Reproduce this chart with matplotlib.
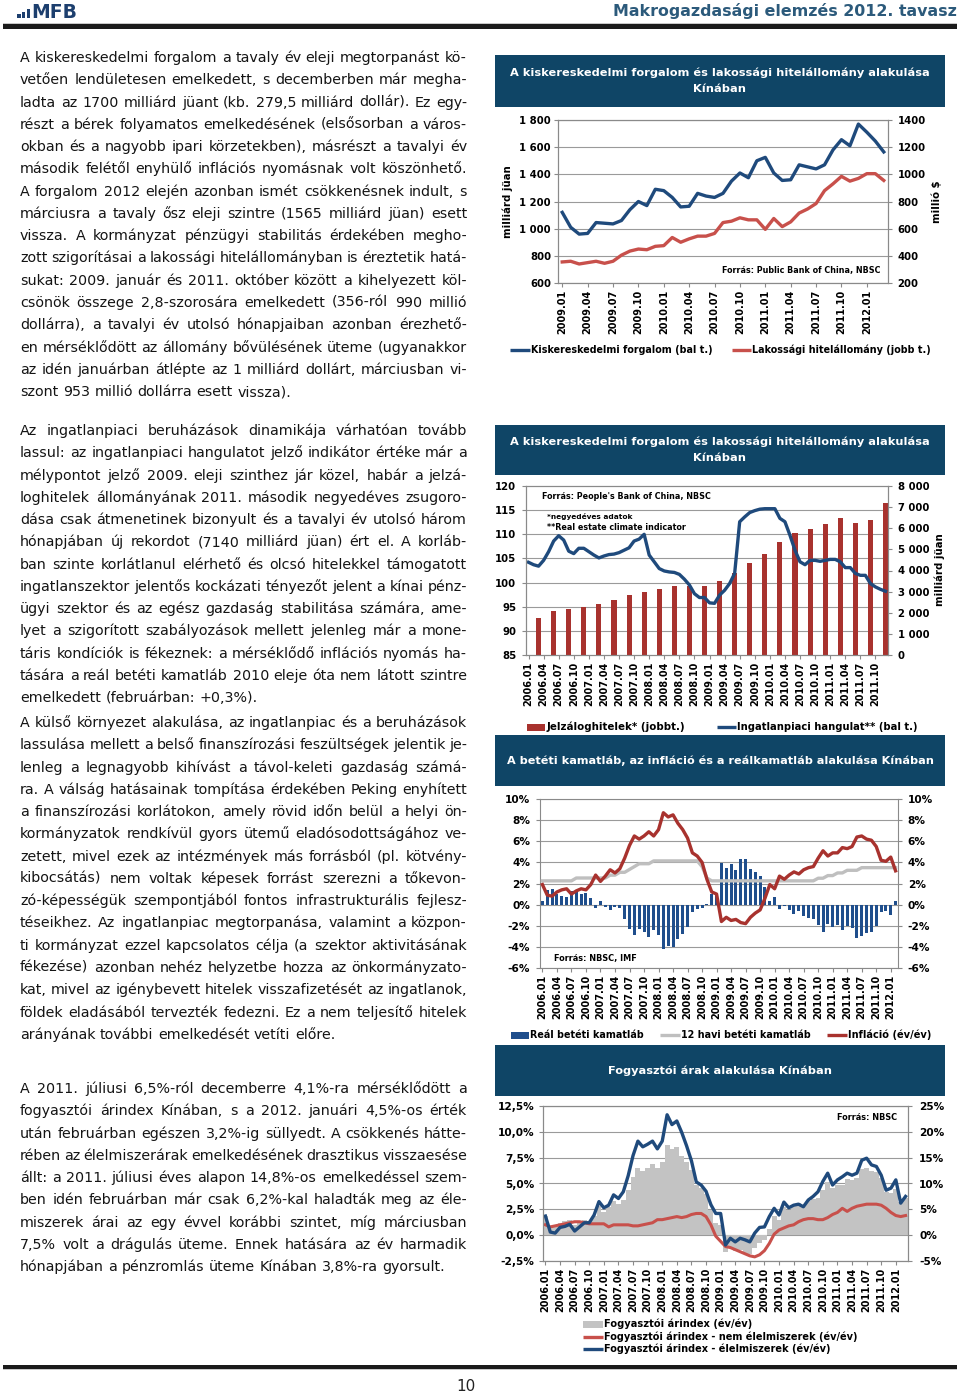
import matplotlib
matplotlib.use("Agg")
import matplotlib.pyplot as plt
import matplotlib.patches as patches
from matplotlib.lines import Line2D
import numpy as np

plt.rcParams["font.family"] = "DejaVu Sans"

W, H = 960, 1394

# chart 1: retail sales (bn yuan) and household loans (mn USD), 2009.01-2012.03
retail_sales = [1120, 1010, 960, 965, 1045, 1040, 1035, 1060, 1140, 1200, 1170, 1290,
                1280, 1230, 1160, 1165, 1260, 1240, 1230, 1260, 1350, 1410, 1375, 1500,
                1525, 1410, 1355, 1360, 1470, 1455, 1440, 1470, 1580, 1655, 1610, 1770,
                1710, 1645, 1565]
household_loans = [355, 360, 340, 350, 360, 345, 360, 405, 435, 450, 445, 470,
                   475, 535, 500, 525, 545, 545, 565, 645, 655, 680, 665, 665,
                   595, 675, 615, 650, 715, 745, 785, 880, 930, 985, 950, 970,
                   1005, 1005, 955]

# chart 2: quarterly mortgage stock (bn yuan) and monthly climate index, 2006.01-2011.12
mortgage_loans = [1760, 2090, 2180, 2260, 2400, 2590, 2840, 3000, 3110, 3280, 3280, 3280,
                  3500, 3870, 4370, 4780, 5340, 5770, 5980, 6190, 6490, 6270, 6410, 7200]
climate_index = [104.2, 103.7, 103.4, 104.6, 106.4, 108.6, 109.7, 108.8, 106.5, 106.0, 107.1, 107.1,
                 106.4, 105.7, 105.1, 105.5, 105.8, 105.9, 106.2, 106.7, 107.2, 108.6, 109.0, 110.0,
                 105.7, 104.3, 102.9, 102.4, 102.2, 102.1, 101.7, 100.7, 99.5, 97.7, 96.9, 96.9,
                 95.8, 95.7, 97.4, 98.4, 99.8, 101.9, 112.6, 113.6, 114.5, 114.9, 115.2, 115.3,
                 115.3, 115.3, 113.3, 112.6, 109.8, 106.7, 104.3, 103.7, 104.6, 104.6, 104.4, 104.6,
                 104.8, 104.8, 104.3, 103.1, 103.1, 101.9, 101.5, 101.5, 99.8, 99.1, 98.6, 98.2]

# chart 3: real / 12-month deposit rate, 2006.01-2012.02
real_rate = [0.35, 1.35, 1.45, 1.05, 0.85, 0.75, 1.25, 1.22, 1.02, 1.12, 0.62, -0.28,
             0.32, -0.18, -0.51, -0.21, -0.34, -1.34, -2.27, -2.90, -2.33, -2.63, -3.03, -2.36,
             -2.9, -4.2, -3.9, -4.0, -3.3, -2.8, -2.1, -0.7, -0.4, -0.3, 0.1, 1.0,
             1.0, 3.9, 3.5, 3.8, 3.3, 4.3, 4.3, 3.4, 3.1, 2.7, 1.7, 0.3,
             0.7, -0.45, -0.15, -0.55, -0.85, -0.65, -1.05, -1.25, -1.35, -1.90, -2.60, -1.85,
             -2.15, -1.90, -2.40, -2.05, -2.25, -3.15, -3.00, -2.70, -2.60, -2.00, -0.70, -0.60,
             -1.00, 0.30]
deposit_rate = [2.25, 2.25, 2.25, 2.25, 2.25, 2.25, 2.25, 2.52, 2.52, 2.52, 2.52, 2.52,
                2.52, 2.52, 2.79, 2.79, 3.06, 3.06, 3.33, 3.60, 3.87, 3.87, 3.87, 4.14,
                4.14, 4.14, 4.14, 4.14, 4.14, 4.14, 4.14, 4.14, 4.14, 3.60, 2.52, 2.25,
                2.25, 2.25, 2.25, 2.25, 2.25, 2.25, 2.25, 2.25, 2.25, 2.25, 2.25, 2.25,
                2.25, 2.25, 2.25, 2.25, 2.25, 2.25, 2.25, 2.25, 2.25, 2.50, 2.50, 2.75,
                2.75, 3.00, 3.00, 3.25, 3.25, 3.25, 3.50, 3.50, 3.50, 3.50, 3.50, 3.50,
                3.50, 3.50]

# CPI (y/y %), 2006.01-2012.03; chart 3 uses it up to 2012.02
cpi = [1.9, 0.9, 0.8, 1.2, 1.4, 1.5, 1.0, 1.3, 1.5, 1.4, 1.9, 2.8,
       2.2, 2.7, 3.3, 3.0, 3.4, 4.4, 5.6, 6.5, 6.2, 6.5, 6.9, 6.5,
       7.1, 8.7, 8.3, 8.5, 7.7, 7.1, 6.3, 4.9, 4.6, 4.0, 2.4, 1.2,
       1.0, -1.6, -1.2, -1.5, -1.4, -1.7, -1.8, -1.2, -0.8, -0.5, 0.6, 1.9,
       1.5, 2.7, 2.4, 2.8, 3.1, 2.9, 3.3, 3.5, 3.6, 4.4, 5.1, 4.6,
       4.9, 4.9, 5.4, 5.3, 5.5, 6.4, 6.5, 6.2, 6.1, 5.5, 4.2, 4.1,
       4.5, 3.2, 3.6]
cpi_nonfood = [1.0, 0.8, 0.9, 1.0, 1.1, 1.2, 1.3, 1.3, 1.2, 1.1, 1.1, 1.1,
               1.1, 0.8, 1.0, 1.0, 1.0, 1.0, 0.9, 0.9, 1.0, 1.1, 1.2, 1.5,
               1.5, 1.6, 1.7, 1.8, 1.7, 1.8, 2.0, 2.1, 2.1, 1.8, 1.0, -0.1,
               -0.6, -1.1, -1.2, -1.4, -1.6, -1.8, -2.0, -2.1, -1.9, -1.5, -0.8, 0.1,
               0.5, 0.7, 0.9, 1.0, 1.3, 1.5, 1.6, 1.6, 1.5, 1.5, 1.7, 2.0,
               2.2, 2.6, 2.3, 2.6, 2.8, 2.9, 3.0, 3.0, 3.0, 2.9, 2.6, 2.2,
               1.9, 1.8, 1.9]
cpi_food = [3.7, 0.6, 0.4, 1.5, 1.7, 2.1, 0.8, 1.6, 2.4, 2.4, 3.9, 6.5,
            5.3, 5.8, 7.8, 7.1, 8.4, 11.5, 15.4, 18.2, 17.1, 17.6, 18.2, 16.7,
            18.2, 23.3, 21.4, 22.1, 19.9, 17.3, 14.4, 10.3, 9.7, 8.5, 5.9, 4.2,
            4.2, -1.9, -0.6, -1.3, -0.6, -0.9, -1.3, 0.4, 1.5, 1.6, 3.6, 5.2,
            3.9, 6.4, 5.3, 5.8, 6.0, 5.5, 6.8, 7.5, 8.4, 10.4, 12.0, 9.7,
            10.7, 11.3, 12.0, 11.6, 12.0, 14.5, 14.9, 13.6, 13.3, 11.6, 8.7, 9.1,
            10.7, 6.2, 7.5]

para1 = [
    "A kiskereskedelmi forgalom a tavaly év eleji megtorpanást kö-",
    "vetően lendületesen emelkedett, s decemberben már megha-",
    "ladta az 1700 milliárd jüant (kb. 279,5 milliárd dollár). Ez egy-",
    "részt a bérek folyamatos emelkedésének (elsősorban a város-",
    "okban és a nagyobb ipari körzetekben), másrészt a tavalyi év",
    "második felétől enyhülő inflációs nyomásnak volt köszönhető.",
    "A forgalom 2012 elején azonban ismét csökkenésnek indult, s",
    "márciusra a tavaly ősz eleji szintre (1565 milliárd jüan) esett",
    "vissza. A kormányzat pénzügyi stabilitás érdekében megho-",
    "zott szigorításai a lakossági hitelállományban is éreztetik hatá-",
    "sukat: 2009. január és 2011. október között a kihelyezett köl-",
    "csönök összege 2,8-szorosára emelkedett (356-ról 990 millió",
    "dollárra), a tavalyi év utolsó hónapjaiban azonban érezhető-",
    "en mérséklődött az állomány bővülésének üteme (ugyanakkor",
    "az idén januárban átlépte az 1 milliárd dollárt, márciusban vi-",
    "szont 953 millió dollárra esett vissza).",
]
para2 = [
    "Az ingatlanpiaci beruházások dinamikája várhatóan tovább",
    "lassul: az ingatlanpiaci hangulatot jelző indikátor értéke már a",
    "mélypontot jelző 2009. eleji szinthez jár közel, habár a jelzá-",
    "loghitelek állományának 2011. második negyedéves zsugoro-",
    "dása csak átmenetinek bizonyult és a tavalyi év utolsó három",
    "hónapjában új rekordot (7140 milliárd jüan) ért el. A korláb-",
    "ban szinte korlátlanul elérhető és olcsó hitelekkel támogatott",
    "ingatlanszektor jelentős kockázati tényezőt jelent a kínai pénz-",
    "ügyi szektor és az egész gazdaság stabilitása számára, ame-",
    "lyet a szigorított szabályozások mellett jelenleg már a mone-",
    "táris kondíciók is fékeznek: a mérséklődő inflációs nyomás ha-",
    "tására a reál betéti kamatláb 2010 eleje óta nem látott szintre",
    "emelkedett (februárban: +0,3%).",
]
para3 = [
    "A külső környezet alakulása, az ingatlanpiac és a beruházások",
    "lassulása mellett a belső finanszírozási feszültségek jelentik je-",
    "lenleg a legnagyobb kihívást a távol-keleti gazdaság számá-",
    "ra. A válság hatásainak tompítása érdekében Peking enyhített",
    "a finanszírozási korlátokon, amely rövid időn belül a helyi ön-",
    "kormányzatok rendkívül gyors ütemű eladósodottságához ve-",
    "zetett, mivel ezek az intézmények más forrásból (pl. kötvény-",
    "kibocsátás) nem voltak képesek forrást szerezni a tőkevon-",
    "zó-képességük szempontjából fontos infrastrukturális fejlesz-",
    "téseikhez. Az ingatlanpiac megtorpanása, valamint a közpon-",
    "ti kormányzat ezzel kapcsolatos célja (a szektor aktivitásának",
    "fékezése) azonban nehéz helyzetbe hozza az önkormányzato-",
    "kat, mivel az igénybevett hitelek visszafizetését az ingatlanok,",
    "földek eladásából tervezték fedezni. Ez a nem teljesítő hitelek",
    "arányának további emelkedését vetíti előre.",
]
para4 = [
    "A 2011. júliusi 6,5%-ról decemberre 4,1%-ra mérséklődött a",
    "fogyasztói árindex Kínában, s a 2012. januári 4,5%-os érték",
    "után februárban egészen 3,2%-ig süllyedt. A csökkenés hátte-",
    "rében az élelmiszerárak emelkedésének drasztikus visszaesése",
    "állt: a 2011. júliusi éves alapon 14,8%-os emelkedéssel szem-",
    "ben idén februárban már csak 6,2%-kal haladták meg az éle-",
    "miszerek árai az egy évvel korábbi szintet, míg márciusban",
    "7,5% volt a drágulás üteme. Ennek hatására az év harmadik",
    "hónapjában a pénzromlás üteme Kínában 3,8%-ra gyorsult.",
]

NAVY = "#0f4566"
BLUE = "#1f4a7c"
RED = "#c8504b"
DARKRED = "#a8322e"
BARBLUE = "#1f4e8c"
GRAY = "#bfbfbf"
GRID = "#9a9a9a"
SPINE = "#8a8a8a"

fig = plt.figure(figsize=(W / 100, H / 100), dpi=100)
R = fig.canvas.get_renderer()


def px(x, y):
    return x / W, 1 - y / H


def put(x, y, s, size=7, width=None, **kw):
    kw.setdefault("fontweight", "bold")
    t = fig.text(*px(x, y), s, fontsize=size, **kw)
    if width:
        w = t.get_window_extent(R).width
        t.set_fontsize(size * width / w)
    return t


def axes_at(l, t, r, b):
    return fig.add_axes([l / W, 1 - b / H, (r - l) / W, (b - t) / H])


def month_labels(year, month, n):
    out = []
    for _ in range(n):
        out.append(f"{year}.{month:02d}")
        month += 1
        if month > 12:
            month, year = 1, year + 1
    return out


def space_fmt(v):
    return f"{v:,}".replace(",", " ")


def frame(ax, months):
    ax.set_xlim(-0.5, len(months) - 0.5)
    ax.set_xticks(range(0, len(months), 3))
    ax.set_xticklabels(months[::3], rotation=90, fontsize=7, fontweight="bold")
    for s in ax.spines.values():
        s.set_color(SPINE)
        s.set_linewidth(0.8)
    ax.tick_params(length=3, color=SPINE, pad=2)


def yfmt(ax, ticks, labels, pad=2, size=7.3):
    ax.set_yticks(ticks)
    ax.set_yticklabels(labels, fontsize=size, fontweight="bold")
    ax.tick_params(axis="y", pad=pad)


def title_box(top, bottom, lines, width):
    fig.add_artist(patches.Rectangle(px(495, bottom), 450 / W, (bottom - top) / H,
                                     transform=fig.transFigure, color=NAVY, lw=0))
    mid = (top + bottom) / 2
    n = len(lines)
    t0 = put(720, mid - (n - 1) * 8, lines[0], size=8, width=width,
             color="white", ha="center", va="center")
    for i, s in enumerate(lines[1:], start=1):
        put(720, mid - (n - 1) * 8 + 16 * i, s, size=t0.get_fontsize(),
            color="white", ha="center", va="center")


def legend_item(x0, x1, y, kind, color, text, width):
    if kind == "line":
        fig.add_artist(Line2D([x0 / W, x1 / W], [1 - y / H] * 2, transform=fig.transFigure,
                              color=color, lw=2.4, solid_capstyle="butt"))
    else:
        fig.add_artist(patches.Rectangle(px(x0, y + 3.5), (x1 - x0) / W, 7 / H,
                                         transform=fig.transFigure, color=color, lw=0))
    put(x1 + 1, y, text, size=7, width=width, va="center")


def justified(lines, top, size, x0=20, x1=467, step=22.27):
    for i, line in enumerate(lines):
        y = 1 - (top + 5 + i * step) / H
        words = line.split(" ")
        ts = [fig.text(0, y, w, fontsize=size, color="#141414") for w in words]
        ws = [t.get_window_extent(R).width for t in ts]
        if i == len(lines) - 1:
            gap = size * 100 / 72 * 0.318
        else:
            gap = (x1 - x0 - sum(ws)) / (len(words) - 1)
        x = x0
        for t, w in zip(ts, ws):
            t.set_x(x / W)
            x += w + gap


# ---------------- header / footer ----------------
for (a, b, c) in [(17.3, 20.7, 14.0), (22.0, 25.3, 12.0), (26.7, 29.8, 9.5)]:
    fig.add_artist(patches.Rectangle(px(a, 17.6), (b - a) / W, (17.6 - c) / H,
                                     transform=fig.transFigure, color="#1d3f6e", lw=0))
put(31, 17.6, "MFB", size=13.5, color="#1d3f6e")
put(957, 16, "Makrogazdasági elemzés 2012. tavasz", size=11, width=344,
    color="#2c5a7b", ha="right")
fig.add_artist(patches.Rectangle(px(3, 23.8), 954 / W, 1 / H, transform=fig.transFigure,
                                 color="#c8c8c8", lw=0))
fig.add_artist(patches.Rectangle(px(3, 28.5), 954 / W, 4.5 / H, transform=fig.transFigure,
                                 color="#1b1b1b", lw=0))
fig.add_artist(patches.Rectangle(px(3, 1368.5), 954 / W, 3.5 / H, transform=fig.transFigure,
                                 color="#1b1b1b", lw=0))
fig.add_artist(patches.Rectangle(px(3, 1370.3), 954 / W, 1.2 / H, transform=fig.transFigure,
                                 color="#c8c8c8", lw=0))
put(466, 1391, "10", size=11, fontweight="normal", ha="center", color="#222222")

# ---------------- body text ----------------
probe = fig.text(0, 0, para1[-1], fontsize=10)
body_size = 10 * 271 / probe.get_window_extent(R).width
probe.remove()
justified(para1, 57, body_size)
justified(para2, 430, body_size)
justified(para3, 722, body_size)
justified(para4, 1088, body_size)

# ---------------- chart 1 ----------------
title_box(55, 107, ["A kiskereskedelmi forgalom és lakossági hitelállomány alakulása",
                    "Kínában"], 415)
m1 = month_labels(2009, 1, len(retail_sales))
x1 = list(range(len(m1)))
ax = axes_at(558, 120, 888, 283)
axr = ax.twinx()
axr.plot(x1, household_loans, color=RED, lw=2.4)
ax.plot(x1, retail_sales, color=BLUE, lw=2.4)
ax.set_ylim(600, 1800)
axr.set_ylim(200, 1400)
frame(ax, m1)
for s in axr.spines.values():
    s.set_color(SPINE)
    s.set_linewidth(0.8)
axr.tick_params(length=3, color=SPINE)
yfmt(ax, range(600, 1801, 200), [space_fmt(v) for v in range(600, 1801, 200)])
yfmt(axr, range(200, 1401, 200), [str(v) for v in range(200, 1401, 200)], pad=4)
ax.yaxis.grid(True, color=GRID, lw=0.8)
ax.set_axisbelow(True)
fig.text(*px(508, 202), "milliárd jüan", rotation=90, fontsize=7.3, fontweight="bold",
         ha="center", va="center")
fig.text(*px(937, 202), "millió $", rotation=90, fontsize=7.3, fontweight="bold",
         ha="center", va="center")
put(722, 271, "Forrás: Public Bank of China, NBSC", width=158, va="center")
legend_item(510, 530, 350, "line", BLUE, "Kiskereskedelmi forgalom (bal t.)", 184)
legend_item(732, 751, 350, "line", RED, "Lakossági hitelállomány (jobb t.)", 180)

# ---------------- chart 2 ----------------
title_box(425, 475, ["A kiskereskedelmi forgalom és lakossági hitelállomány alakulása",
                     "Kínában"], 415)
m2 = month_labels(2006, 1, len(climate_index))
x2 = list(range(len(m2)))
bar_x = [i for i, m in enumerate(m2) if m[-2:] in ("03", "06", "09", "12")]
ax = axes_at(526, 486, 888, 655)
axl = ax.twinx()
ax.bar(bar_x, mortgage_loans, width=1.0, color=DARKRED, zorder=2)
ax.set_ylim(0, 8000)
frame(ax, m2)
ax.set_yticks(np.linspace(0, 8000, 8), minor=True)
ax.yaxis.grid(True, which="minor", color=GRID, lw=0.8)
ax.set_axisbelow(True)
yfmt(ax, range(0, 8001, 1000), [space_fmt(v) for v in range(0, 8001, 1000)], pad=4)
axl.plot(x2, climate_index, color=BLUE, lw=2.4)
axl.set_ylim(85, 120)
yfmt(axl, range(85, 121, 5), [str(v) for v in range(85, 121, 5)], pad=4)
for s in axl.spines.values():
    s.set_color(SPINE)
    s.set_linewidth(0.8)
axl.tick_params(length=3, color=SPINE)
# bars' scale on the right, index scale on the left
ax.yaxis.tick_right()
axl.yaxis.tick_left()
ax.tick_params(axis="y", which="minor", length=0)
ax.tick_params(axis="y", which="major", length=3, color=SPINE)
fig.text(*px(940, 570), "milliárd jüan", rotation=90, fontsize=7.3, fontweight="bold",
         ha="center", va="center")
put(542, 497, "Forrás: People's Bank of China, NBSC", width=169, va="center")
put(547, 516, "*negyedéves adatok", width=85, va="center")
put(547, 527, "**Real estate climate indicator", width=140, va="center")
legend_item(527, 545, 727, "patch", DARKRED, "Jelzáloghitelek* (jobbt.)", 139)
legend_item(717, 736, 727, "line", BLUE, "Ingatlanpiaci hangulat** (bal t.)", 180)

# ---------------- chart 3 ----------------
title_box(735, 786, ["A betéti kamatláb, az infláció és a reálkamatláb alakulása Kínában"], 424)
m3 = month_labels(2006, 1, len(real_rate))
x3 = list(range(len(m3)))
ax = axes_at(540, 799, 898, 968)
ax.bar(x3, real_rate, width=0.62, color=BARBLUE, zorder=2)
ax.plot(x3, deposit_rate, color=GRAY, lw=2.4, zorder=3)
ax.plot(x3, cpi[:len(m3)], color=DARKRED, lw=2.4, zorder=4)
ax.set_ylim(-6, 10)
frame(ax, m3)
yfmt(ax, range(-6, 11, 2), [f"{v}%" for v in range(-6, 11, 2)], pad=4, size=7.6)
ax.tick_params(axis="y", right=True, labelright=True)
ax.yaxis.grid(True, color=GRID, lw=0.8)
ax.set_axisbelow(True)
put(554, 959, "Forrás: NBSC, IMF", width=83, va="center")
legend_item(511, 529, 1035, "patch", BARBLUE, "Reál betéti kamatláb", 114)
legend_item(660, 680, 1035, "line", GRAY, "12 havi betéti kamatláb", 131)
legend_item(827, 847, 1035, "line", DARKRED, "Infláció (év/év)", 84)

# ---------------- chart 4 ----------------
title_box(1045, 1096, ["Fogyasztói árak alakulása Kínában"], 221)
m4 = month_labels(2006, 1, len(cpi))
x4 = list(range(len(m4)))
ax = axes_at(543, 1106, 908, 1261)
ax.bar(x4, cpi, width=1.0, color="#c3c3c3", zorder=2)
ax.plot(x4, cpi_nonfood, color=RED, lw=2.2, zorder=3)
ax.set_ylim(-2.5, 12.5)
frame(ax, m4)
left4 = [-2.5, 0, 2.5, 5, 7.5, 10, 12.5]
yfmt(ax, left4, [f"{v:.1f}%".replace(".", ",") for v in left4], pad=3, size=7.6)
ax.yaxis.grid(True, color=GRID, lw=0.8)
ax.set_axisbelow(True)
axr = ax.twinx()
axr.plot(x4, cpi_food, color=BLUE, lw=2.4)
axr.set_ylim(-5, 25)
yfmt(axr, range(-5, 26, 5), [f"{v}%" for v in range(-5, 26, 5)], pad=5, size=7.6)
for s in axr.spines.values():
    s.set_color(SPINE)
    s.set_linewidth(0.8)
axr.tick_params(length=3, color=SPINE)
put(837, 1118, "Forrás: NBSC", width=60, va="center")
legend_item(583, 603, 1324, "patch", "#c3c3c3", "Fogyasztói árindex (év/év)", 148)
legend_item(583, 603, 1337, "line", RED, "Fogyasztói árindex - nem élelmiszerek (év/év)", 255)
legend_item(583, 603, 1349, "line", BLUE, "Fogyasztói árindex - élelmiszerek (év/év)", 228)

fig.savefig("out.png", dpi=100)
